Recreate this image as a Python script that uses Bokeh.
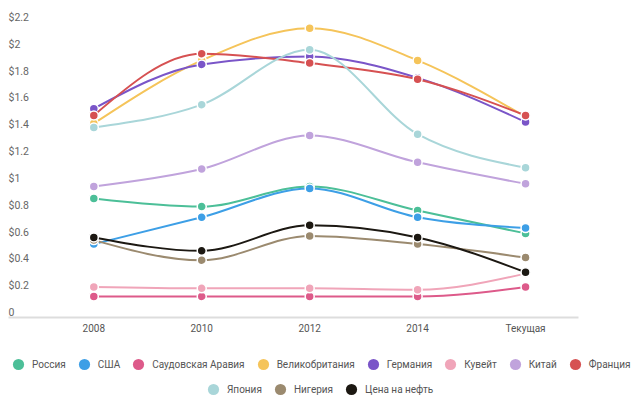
import numpy as np
from bokeh.plotting import figure
from bokeh.models import FixedTicker, Legend, LegendItem, Range1d
from bokeh.core.properties import value
from bokeh.embed import file_html
from bokeh.resources import INLINE

categories = ["2008", "2010", "2012", "2014", "Текущая"]

series_names = ["Россия", "США", "Саудовская Аравия", "Великобритания", "Германия",
                "Кувейт", "Китай", "Франция", "Япония", "Нигерия", "Цена на нефть"]

russia = [0.85, 0.79, 0.94, 0.76, 0.59]
usa = [0.51, 0.71, 0.925, 0.71, 0.63]
saudi_arabia = [0.12, 0.12, 0.12, 0.12, 0.19]
uk = [1.41, 1.88, 2.12, 1.88, 1.46]
germany = [1.52, 1.85, 1.91, 1.75, 1.42]
kuwait = [0.19, 0.18, 0.18, 0.17, 0.29]
china = [0.94, 1.07, 1.32, 1.12, 0.96]
france = [1.47, 1.93, 1.86, 1.74, 1.47]
japan = [1.38, 1.55, 1.96, 1.33, 1.08]
nigeria = [0.54, 0.39, 0.57, 0.51, 0.41]
oil_price = [0.56, 0.46, 0.65, 0.56, 0.30]

series_values = [russia, usa, saudi_arabia, uk, germany, kuwait, china, france,
                 japan, nigeria, oil_price]

colors = ["#4cbf98", "#3d9fe6", "#dd5a8a", "#f5c45a", "#7a55c8", "#f0a5b9",
          "#c0a3dc", "#d65152", "#a9d6d9", "#9b8a6f", "#1c1812"]

y_ticks = [0, 0.2, 0.4, 0.6, 0.8, 1.0, 1.2, 1.4, 1.6, 1.8, 2.0, 2.2]
y_tick_labels = ["0", "$0.2", "$0.4", "$0.6", "$0.8", "$1", "$1.2", "$1.4",
                 "$1.6", "$1.8", "$2", "$2.2"]

# view window (layout constants)
X_START, X_END = -0.8645, 5.065
AXIS_X_START, AXIS_X_END = -0.790, 4.49
Y_START, Y_END = -0.7234, 2.3268
AXIS_Y = -0.041


def monotone_tangents(x, y):
    n = len(x)
    h = [x[i + 1] - x[i] for i in range(n - 1)]
    s = [(y[i + 1] - y[i]) / h[i] for i in range(n - 1)]
    t = [0.0] * n
    for i in range(1, n - 1):
        p = (s[i - 1] * h[i] + s[i] * h[i - 1]) / (h[i - 1] + h[i])
        t[i] = (np.sign(s[i - 1]) + np.sign(s[i])) * min(abs(s[i - 1]), abs(s[i]), 0.5 * abs(p))
    t[0] = (3 * s[0] - t[1]) / 2
    t[-1] = (3 * s[-1] - t[-2]) / 2
    return t


p = figure(width=640, height=409, output_backend="svg", toolbar_location=None,
           x_range=Range1d(X_START, X_END), y_range=Range1d(Y_START, Y_END),
           y_axis_location=None, min_border_left=0, min_border_right=0,
           min_border_top=0, min_border_bottom=0, outline_line_color=None,
           background_fill_color="white", border_fill_color="white")
p.grid.visible = False

xs = list(range(len(categories)))
legend_items = []
for name, vals, col in zip(series_names, series_values, colors):
    t = monotone_tangents(xs, vals)
    x0 = xs[:-1]
    x1 = xs[1:]
    y0 = vals[:-1]
    y1 = vals[1:]
    cx0 = [a + (b - a) / 3 for a, b in zip(x0, x1)]
    cx1 = [b - (b - a) / 3 for a, b in zip(x0, x1)]
    cy0 = [ya + (b - a) / 3 * t[i] for i, (a, b, ya) in enumerate(zip(x0, x1, y0))]
    cy1 = [yb - (b - a) / 3 * t[i + 1] for i, (a, b, yb) in enumerate(zip(x0, x1, y1))]
    p.bezier(x0=x0, y0=y0, x1=x1, y1=y1, cx0=cx0, cy0=cy0, cx1=cx1, cy1=cy1,
             line_color=col, line_width=2)
    p.scatter(x=xs, y=vals, size=9, fill_color=col, line_color="white", line_width=1.5)
    # legend-only marker (size 0 in the plot; the legend sizes it from its glyph box)
    key = p.scatter(x=xs[:1], y=vals[:1], size=0, fill_color=col, line_color=None)
    legend_items.append(LegendItem(label=name, renderers=[key]))

p.text(x=[AXIS_X_START] * len(y_ticks), y=y_ticks, text=y_tick_labels,
       text_font=value("Roboto"), text_font_size="10.5px", text_color="#666666",
       text_align="left", text_baseline="middle")

ax = p.xaxis[0]
ax.fixed_location = AXIS_Y
ax.bounds = (AXIS_X_START, AXIS_X_END)
ax.ticker = FixedTicker(ticks=xs)
ax.major_label_overrides = {i: c for i, c in enumerate(categories)}
ax.axis_line_color = "#dddddd"
ax.axis_line_width = 2
ax.major_tick_line_color = None
ax.minor_tick_line_color = None
ax.major_tick_out = 0
ax.major_tick_in = 0
ax.major_label_standoff = 5
ax.major_label_text_font = "Roboto"
ax.major_label_text_font_size = "10px"
ax.major_label_text_color = "#555555"

common = dict(orientation="horizontal", glyph_width=28,
              glyph_height=28, label_height=28, label_standoff=-3, spacing=4,
              padding=0, margin=0, border_line_color=None, background_fill_alpha=0,
              label_text_font="Roboto", label_text_font_size="10px",
              label_text_color="#555555")
legend1 = Legend(items=legend_items[:8], location=(4, 31), **common)
legend2 = Legend(items=legend_items[8:], location=(199, 6), **common)
p.add_layout(legend1, "center")
p.add_layout(legend2, "center")

open("out.html", "w").write(file_html(p, INLINE))
